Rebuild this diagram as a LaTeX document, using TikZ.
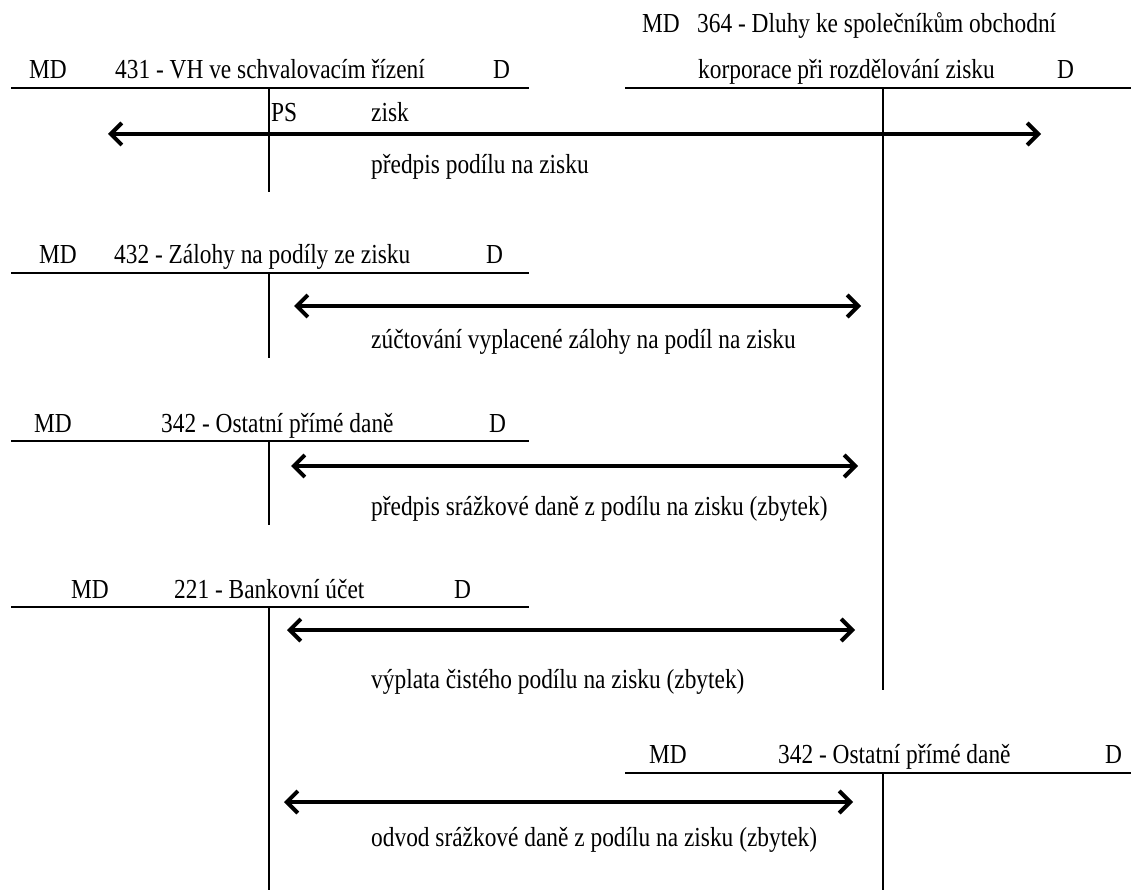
\documentclass[tikz,border=0pt]{standalone}
\usepackage{fontspec}
\setmainfont{Liberation Serif}[FakeStretch=0.85]
\usetikzlibrary{arrows.meta}
\tikzset{
  %---------------------%
  %  T-account styles   %
  %---------------------%
  % Text of the accounts
  acc_text/.style={
    anchor=base west,
    inner sep=0pt,
    font=\rmfamily\fontsize{27.5}{32}\selectfont
  },
  % Lines of the accounts
  acc_line/.style={draw, line width=2.6pt},
  %----------------%
  %     Arrows     %
  %----------------%
  arrow/.style={
    draw,
    line width=4pt,
    {Straight Barb[length=11pt,width=22pt]}-{Straight Barb[length=11pt,width=22pt]}
  },
}

\begin{document}
\begin{tikzpicture}[x=1pt, y=-1pt]
    \useasboundingbox (0, 0) rectangle (1131, 890);

    %-------------------------------%
    %  431 - VH ve schvalovacim     %
    %-------------------------------%
    \node (md431) [acc_text] at (29, 79) {MD};
    \node (t431) [acc_text] at (115, 79) {431 - VH ve schvalovacím řízení};
    \node (d431) [acc_text] at (493, 79) {D};
    \draw [acc_line] (11, 88) -- (529, 88);
    \draw [acc_line] (269, 88) -- (269, 192);
    \node (ps431) [acc_text] at (271, 122) {PS};
    \node (zisk431) [acc_text] at (371, 122) {zisk};

    %-------------------------------%
    %  364 - Dluhy ke spolecnikum   %
    %-------------------------------%
    \node (md364) [acc_text] at (642, 33) {MD};
    \node (t364a) [acc_text] at (697, 33) {364 - Dluhy ke společníkům obchodní};
    \node (t364b) [acc_text] at (698, 79) {korporace při rozdělování zisku};
    \node (d364) [acc_text] at (1057, 79) {D};
    \draw [acc_line] (625, 88) -- (1131, 88);
    \draw [acc_line] (883, 88) -- (883, 690);

    %-------------------------------%
    %  432 - Zalohy na podily       %
    %-------------------------------%
    \node (md432) [acc_text] at (39, 264) {MD};
    \node (t432) [acc_text] at (114, 264) {432 - Zálohy na podíly ze zisku};
    \node (d432) [acc_text] at (486, 264) {D};
    \draw [acc_line] (11, 273) -- (529, 273);
    \draw [acc_line] (269, 273) -- (269, 358);

    %-------------------------------%
    %  342 - Ostatni prime dane     %
    %-------------------------------%
    \node (md342) [acc_text] at (34, 432) {MD};
    \node (t342) [acc_text] at (161, 432) {342 - Ostatní přímé daně};
    \node (d342) [acc_text] at (489, 432) {D};
    \draw [acc_line] (11, 441) -- (529, 441);
    \draw [acc_line] (269, 441) -- (269, 525);

    %-------------------------------%
    %  221 - Bankovni ucet          %
    %-------------------------------%
    \node (md221) [acc_text] at (71, 598) {MD};
    \node (t221) [acc_text] at (174, 598) {221 - Bankovní účet};
    \node (d221) [acc_text] at (454, 598) {D};
    \draw [acc_line] (11, 607) -- (529, 607);
    \draw [acc_line] (269, 607) -- (269, 890);

    %-------------------------------%
    %  342 - Ostatni prime dane (2) %
    %-------------------------------%
    \node (md342b) [acc_text] at (649, 763) {MD};
    \node (t342b) [acc_text] at (778, 763) {342 - Ostatní přímé daně};
    \node (d342b) [acc_text] at (1105, 763) {D};
    \draw [acc_line] (625, 773) -- (1131, 773);
    \draw [acc_line] (883, 773) -- (883, 890);

    %----------%
    %  Arrows  %
    %----------%
    % Predpis podilu na zisku
    \coordinate (a1_l) at (108, 134);
    \coordinate (a1_r) at (1041, 134);
    \draw [arrow] (a1_l) -- (a1_r);
    \node (l1) [acc_text] at (371, 174) {předpis podílu na zisku};

    % Zuctovani zalohy
    \coordinate (a2_l) at (294, 306);
    \coordinate (a2_r) at (861, 306);
    \draw [arrow] (a2_l) -- (a2_r);
    \node (l2) [acc_text] at (371, 348) {zúčtování vyplacené zálohy na podíl na zisku};

    % Predpis srazkove dane
    \coordinate (a3_l) at (291, 466);
    \coordinate (a3_r) at (858, 466);
    \draw [arrow] (a3_l) -- (a3_r);
    \node (l3) [acc_text] at (371, 515) {předpis srážkové daně z podílu na zisku (zbytek)};

    % Vyplata cisteho podilu
    \coordinate (a4_l) at (287, 630);
    \coordinate (a4_r) at (855, 630);
    \draw [arrow] (a4_l) -- (a4_r);
    \node (l4) [acc_text] at (371, 688) {výplata čistého podílu na zisku (zbytek)};

    % Odvod srazkove dane
    \coordinate (a5_l) at (284, 802);
    \coordinate (a5_r) at (853, 802);
    \draw [arrow] (a5_l) -- (a5_r);
    \node (l5) [acc_text] at (371, 846) {odvod srážkové daně z podílu na zisku (zbytek)};
\end{tikzpicture}
\end{document}
